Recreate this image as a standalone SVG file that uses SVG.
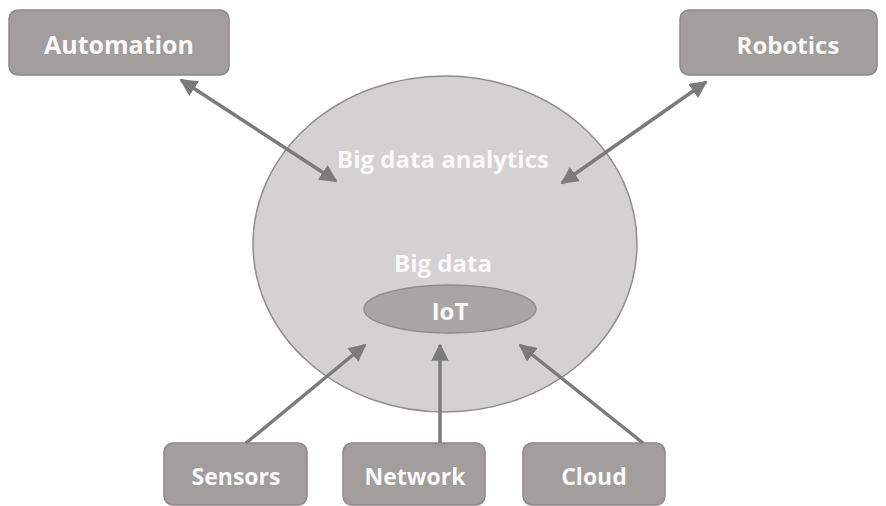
<svg xmlns="http://www.w3.org/2000/svg" width="886" height="506" viewBox="0 0 886 506">
<style>
.box{fill:#a19e9d;stroke:#8c8988;stroke-width:1.5}
.lbl{font-family:"Open Sans","Liberation Sans",sans-serif;font-weight:bold;font-size:23px;fill:#f9f9f9;text-anchor:middle;dominant-baseline:central}
.con{stroke:#7b7b7b;stroke-width:3.5;fill:none}
</style>
<defs>
<marker id="ah" viewBox="0 0 10 10" refX="9" refY="5" markerWidth="5" markerHeight="5" orient="auto-start-reverse" markerUnits="strokeWidth">
<path d="M0,0 L10,5 L0,10 z" fill="#7b7b7b"/>
</marker>
</defs>
<g id="bigdata">
<ellipse cx="445" cy="244" rx="192" ry="168" fill="#d3d1d1" stroke="#8f8d8d" stroke-width="1.5"/>
<text class="lbl" x="443" y="158" style="font-size:24px">Big data analytics</text>
<text class="lbl" x="443" y="262" style="font-size:24px">Big data</text>
</g>
<g id="iot">
<ellipse cx="450" cy="309" rx="86" ry="24" fill="#a8a5a5" stroke="#8f8d8d" stroke-width="1.5"/>
<text class="lbl" x="450" y="310" style="font-size:24px">IoT</text>
</g>
<g id="automation">
<rect class="box" x="9" y="10" width="220" height="65" rx="9"/>
<text class="lbl" x="119" y="44" style="font-size:25px">Automation</text>
</g>
<g id="robotics">
<rect class="box" x="680" y="10" width="197" height="65" rx="9"/>
<text class="lbl" x="788" y="44" style="font-size:24px">Robotics</text>
</g>
<g id="sensors">
<rect class="box" x="164" y="443" width="143" height="62" rx="9"/>
<text class="lbl" x="236" y="476">Sensors</text>
</g>
<g id="network">
<rect class="box" x="343" y="443" width="142" height="62" rx="9"/>
<text class="lbl" x="415" y="476">Network</text>
</g>
<g id="cloud">
<rect class="box" x="523" y="443" width="142" height="62" rx="9"/>
<text class="lbl" x="594" y="476">Cloud</text>
</g>
<g id="connectors">
<line class="con" x1="181" y1="80" x2="336" y2="181" marker-start="url(#ah)" marker-end="url(#ah)"/>
<line class="con" x1="706" y1="82" x2="562" y2="183" marker-start="url(#ah)" marker-end="url(#ah)"/>
<line class="con" x1="246" y1="443" x2="365" y2="345" marker-end="url(#ah)"/>
<line class="con" x1="440" y1="443" x2="440" y2="345" marker-end="url(#ah)"/>
<line class="con" x1="643" y1="443" x2="520" y2="345" marker-end="url(#ah)"/>
</g>
</svg>
